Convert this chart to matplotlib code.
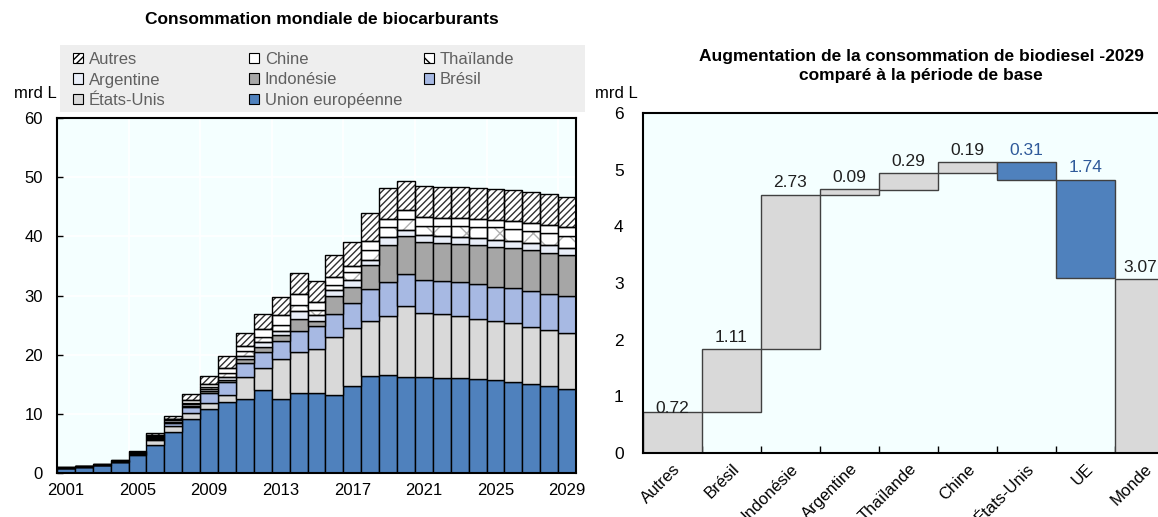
import matplotlib
matplotlib.use('Agg')
import matplotlib.pyplot as plt
import numpy as np
from matplotlib.patches import Patch, Rectangle

# ---------------- data: left chart (mrd L) ----------------
years = list(range(2001, 2030))
union_europeenne = [0.85, 1.05, 1.35, 1.85, 3.0, 4.7, 7.0, 9.1, 10.8, 12.0, 12.5, 14.0, 12.5, 13.5, 13.5,
                    13.2, 14.7, 16.4, 16.6, 16.3, 16.2, 16.1, 16.0, 15.9, 15.7, 15.4, 15.1, 14.7, 14.2]
etats_unis = [0.03, 0.03, 0.03, 0.08, 0.25, 0.9, 1.0, 1.0, 1.1, 1.1, 3.7, 3.8, 6.8, 7.0, 7.4,
              9.8, 9.8, 9.3, 10.0, 11.9, 10.9, 10.7, 10.5, 10.2, 10.0, 9.9, 9.6, 9.5, 9.4]
bresil = [0.0, 0.0, 0.0, 0.01, 0.05, 0.15, 0.5, 1.1, 1.7, 2.3, 2.4, 2.7, 3.0, 3.5, 3.9,
          3.9, 4.3, 5.4, 5.7, 5.4, 5.6, 5.6, 5.7, 5.8, 5.8, 5.9, 6.0, 6.1, 6.3]
indonesie = [0.02, 0.02, 0.02, 0.04, 0.08, 0.2, 0.2, 0.2, 0.2, 0.3, 0.6, 0.8, 1.0, 2.1, 0.9,
             3.0, 2.7, 4.0, 6.3, 6.4, 6.4, 6.5, 6.5, 6.6, 6.7, 6.9, 7.0, 6.9, 6.9]
argentine = [0.02, 0.03, 0.03, 0.05, 0.07, 0.15, 0.2, 0.3, 0.4, 0.6, 0.6, 0.8, 0.7, 1.2, 1.0,
             1.0, 1.1, 0.9, 1.3, 1.0, 1.1, 1.1, 1.2, 1.3, 1.2, 1.1, 1.1, 1.3, 1.3]
thailande = [0.02, 0.03, 0.02, 0.04, 0.05, 0.15, 0.15, 0.2, 0.4, 0.6, 0.8, 0.9, 1.0, 1.1, 0.9,
             0.9, 1.4, 1.7, 1.7, 2.0, 1.5, 1.8, 1.9, 1.8, 2.1, 2.1, 2.1, 2.0, 1.9]
chine = [0.02, 0.03, 0.02, 0.05, 0.1, 0.15, 0.15, 0.4, 0.5, 0.8, 0.9, 1.3, 1.7, 1.9, 1.3,
         1.4, 1.0, 1.5, 1.4, 1.4, 1.6, 1.3, 1.3, 1.4, 1.2, 1.3, 1.3, 1.4, 1.5]
autres = [0.04, 0.06, 0.08, 0.08, 0.2, 0.3, 0.4, 1.0, 1.3, 2.0, 2.2, 2.5, 3.1, 3.5, 3.6,
          3.7, 4.0, 4.7, 5.2, 5.0, 5.2, 5.3, 5.2, 5.2, 5.3, 5.2, 5.3, 5.2, 5.2]
year_labels = ['2001', '2005', '2009', '2013', '2017', '2021', '2025', '2029']

# ---------------- data: right chart (waterfall) ----------------
wf_categories = ['Autres', 'Brésil', 'Indonésie', 'Argentine', 'Thaïlande', 'Chine',
                 'États-Unis', 'UE', 'Monde']
wf_changes = [0.72, 1.11, 2.73, 0.09, 0.29, 0.19, -0.31, -1.74]
wf_total = 3.07

FONT = ['Liberation Sans', 'DejaVu Sans']
plt.rcParams['font.family'] = FONT
plt.rcParams['hatch.linewidth'] = 1.0

fig = plt.figure(figsize=(11.58, 5.17), dpi=100)
BG = '#F4FFFF'
FS = 12

# ================= left chart =================
ax = fig.add_axes([57/1158, 44/517, 519/1158, 355/517])
ax.set_facecolor(BG)
x = np.arange(len(years))
series = [
    ('Union européenne', union_europeenne, '#4F81BD', None, None),
    ('États-Unis', etats_unis, '#D9D9D9', None, None),
    ('Brésil', bresil, '#A7B9E3', None, None),
    ('Indonésie', indonesie, '#A6A6A6', None, None),
    ('Argentine', argentine, '#E9EEF8', None, None),
    ('Thaïlande', thailande, 'white', 'x', '#B0B0B0'),
    ('Chine', chine, 'white', None, None),
    ('Autres', autres, 'white', '/////', '#303030'),
]
bottom = np.zeros(len(years))
handles = {}
for name, vals, col, hatch, hcol in series:
    vals = np.array(vals, dtype=float)
    if hatch:
        ax.bar(x, vals, bottom=bottom, width=1.0, color=col, hatch=hatch,
               edgecolor=hcol, linewidth=0, zorder=2)
        ax.bar(x, vals, bottom=bottom, width=1.0, fill=False,
               edgecolor='black', linewidth=1.0, zorder=3)
    else:
        ax.bar(x, vals, bottom=bottom, width=1.0, color=col,
               edgecolor='black', linewidth=1.0, zorder=3)
    handles[name] = Patch(facecolor=col, edgecolor='black', hatch=hatch, linewidth=0.8)
    bottom += vals

ax.set_xlim(-0.5, len(years) - 0.5)
ax.set_ylim(0, 60)
ax.set_yticks(np.arange(0, 61, 10))
ax.set_xticks(x[::4])
ax.set_xticklabels(year_labels)
ax.set_xticks(x[4::4] - 0.5, minor=True)
ax.tick_params(axis='both', which='both', direction='in', labelsize=FS, length=4, width=1)
ax.tick_params(axis='x', which='major', length=0, pad=7)
ax.tick_params(axis='y', pad=10)
for v in np.arange(10, 60, 10):
    ax.axhline(v, color='white', lw=1.2, zorder=1)
for xv in x[4::4] - 0.5:
    ax.axvline(xv, color='white', lw=1.2, zorder=1)
for s in ax.spines.values():
    s.set_linewidth(1.5)
    s.set_color('black')
    s.set_zorder(5)

fig.text(322/1158, 1 - 20/517, 'Consommation mondiale de biocarburants',
         fontweight='bold', fontsize=12.5, ha='center', va='center')
fig.text(14/1158, 1 - 93/517, 'mrd L', fontsize=FS, ha='left', va='center')

# legend background box
fig.patches.append(Rectangle((60/1158, 1 - 112/517), 525/1158, 67/517,
                             transform=fig.transFigure, facecolor='#EEEEEE',
                             edgecolor='none', zorder=0))
legend_cols = [['Autres', 'Argentine', 'États-Unis'],
               ['Chine', 'Indonésie', 'Union européenne'],
               ['Thaïlande', 'Brésil']]
legend_x = [73, 249, 424]
for names, lx in zip(legend_cols, legend_x):
    leg = fig.legend([handles[n] for n in names], names, loc='upper left',
                     bbox_to_anchor=(lx/1158, 1 - 52/517), ncol=1, fontsize=FS,
                     frameon=False, handlelength=0.6, handleheight=0.6,
                     handletextpad=0.35, labelspacing=0.33, borderpad=0, borderaxespad=0)
    for t in leg.get_texts():
        t.set_color('#606060')

# ================= right chart =================
ax2 = fig.add_axes([643/1158, 64/517, 531/1158, 340/517])
ax2.set_facecolor(BG)
n = len(wf_categories)
cum = np.cumsum(wf_changes)
starts = np.concatenate([[0], cum[:-1]])
bottoms = list(np.minimum(starts, cum)) + [0]
heights = list(np.abs(wf_changes)) + [wf_total]
tops = [b + h for b, h in zip(bottoms, heights)]
colors = ['#D9D9D9' if c >= 0 else '#4F81BD' for c in wf_changes] + ['#D9D9D9']
ax2.bar(np.arange(n), heights, bottom=bottoms, width=1.0, color=colors,
        edgecolor='#404040', linewidth=1.0, zorder=3)
label_vals = [abs(c) for c in wf_changes] + [wf_total]
label_cols = ['#202020' if c >= 0 else '#2F5A9A' for c in wf_changes] + ['#202020']
label_dy = [0.07] + [0.21] * (n - 1)
label_dx = [0.0] * (n - 1) + [-0.08]
for i in range(n):
    ax2.text(i + label_dx[i], tops[i] + label_dy[i], f'{label_vals[i]:.2f}', ha='center',
             va='center', fontsize=FS + 0.5, color=label_cols[i], zorder=4)
ax2.set_xlim(-0.5, n - 0.5)
ax2.set_ylim(0, 6)
ax2.set_yticks(np.arange(0, 7, 1))
ax2.set_xticks(np.arange(n))
ax2.set_xticklabels(wf_categories, rotation=45, ha='right', va='top', rotation_mode='anchor')
ax2.set_xticks(np.arange(n - 1) + 0.5, minor=True)
ax2.tick_params(axis='x', which='major', length=0, labelsize=FS, pad=6)
ax2.tick_params(axis='x', which='minor', direction='in', length=5, width=1)
ax2.tick_params(axis='y', direction='in', length=0, labelsize=FS + 0.5, pad=14)
for s in ax2.spines.values():
    s.set_linewidth(1.5)
    s.set_color('black')
    s.set_zorder(5)

fig.text(921/1158, 1 - 66/517,
         'Augmentation de la consommation de biodiesel -2029\ncomparé à la période de base',
         fontweight='bold', fontsize=12.5, ha='center', va='center', linespacing=1.35)
fig.text(595/1158, 1 - 93/517, 'mrd L', fontsize=FS, ha='left', va='center')

fig.savefig('out.png', dpi=100)
